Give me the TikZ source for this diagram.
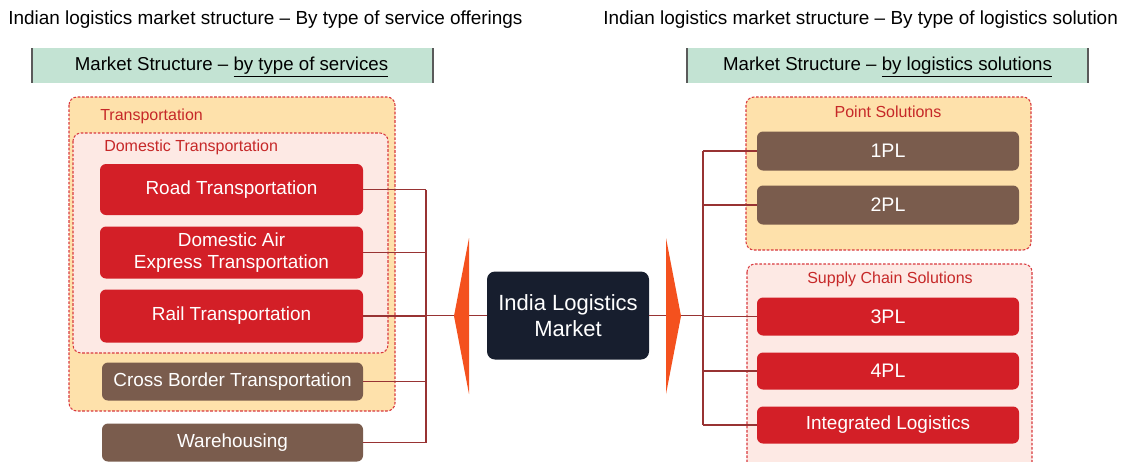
\documentclass[tikz,border=0pt]{standalone}
\usepackage{fontspec}
\setmainfont{Liberation Sans}
\definecolor{hdrgreen}{HTML}{C3E3D3}
\definecolor{lorange}{HTML}{FEE1AB}
\definecolor{lpink}{HTML}{FDE9E4}
\definecolor{dashred}{HTML}{D9393E}
\definecolor{lblred}{HTML}{C62828}
\definecolor{boxred}{HTML}{D31F27}
\definecolor{boxbrown}{HTML}{7A5C4D}
\definecolor{navy}{HTML}{171E2E}
\definecolor{arrowor}{HTML}{F4511E}
\definecolor{connred}{HTML}{983333}
\definecolor{edgegray}{HTML}{5A5A5A}
\begin{document}
\begin{tikzpicture}[x=0.75pt,y=-0.75pt,
  sz/.style 2 args={minimum width=#1*0.75pt, minimum height=#2*0.75pt},
  basebox/.style={text=white, rounded corners=4.5pt, inner sep=0pt, align=center,
    font=\fontsize{14.2}{17}\selectfont},
  redbox/.style={basebox, fill=boxred},
  brownbox/.style={basebox, fill=boxbrown},
  grp/.style={draw=dashred, dash pattern=on 2pt off 1.2pt, line width=0.8pt, rounded corners=6pt},
  grplabel/.style={text=lblred, inner sep=0pt, font=\fontsize{12}{14}\selectfont},
  conn/.style={draw=connred, line width=1.1pt},
  hdr/.style={fill=hdrgreen, draw=none},
  hdrtext/.style={inner sep=0pt, font=\fontsize{14}{17}\selectfont},
  title/.style={inner sep=0pt, anchor=west, font=\fontsize{14.2}{17}\selectfont}]
\useasboundingbox (0,0) rectangle (1123,461);
\clip (0,0) rectangle (1123,461);
\fill[white] (0,0) rectangle (1123,461);

% titles
\node[title] (t1) at (8,20) {Indian logistics market structure – By type of service offerings};
\node[title] (t2) at (603,20) {Indian logistics market structure – By type of logistics solution};

% headers
\fill[hdr] (32,48) rectangle (433,83);
\draw[edgegray, line width=1.1pt] (32,48) -- (32,83) (433,48) -- (433,83);
\node[hdrtext] (h1) at (231.5,67.5) {Market Structure – \underline{by type of services}};
\fill[hdr] (687,48) rectangle (1088,83);
\draw[edgegray, line width=1.1pt] (687,48) -- (687,83) (1088,48) -- (1088,83);
\node[hdrtext] (h2) at (887.5,67.5) {Market Structure – \underline{by logistics solutions}};

% group boxes
\path[grp, fill=lorange] (69,97) rectangle (395,411);
\path[grp, fill=lpink] (73,133) rectangle (388,353);
\node[grplabel, anchor=west] (lt) at (100,116.5) {Transportation};
\node[grplabel, anchor=west] (ldt) at (104,147.5) {Domestic Transportation};
\path[grp, fill=lorange] (746,97) rectangle (1031,250);
\path[grp, fill=lpink] (747,264) rectangle (1032,480);
\node[grplabel] (lps) at (888,111.5) {Point Solutions};
\node[grplabel] (lsc) at (890,279.5) {Supply Chain Solutions};

% left boxes
\node[redbox, sz={263}{51}] (road) at (231.5,189.5) {Road Transportation};
\node[redbox, sz={263}{52}] (air) at (231.5,252.5) {Domestic Air\\Express Transportation};
\node[redbox, sz={263}{53}] (rail) at (231.5,316) {Rail Transportation};
\node[brownbox, sz={261}{38}] (cross) at (232.5,381.5) {Cross Border Transportation};
\node[brownbox, sz={261}{38}] (ware) at (232.5,442.5) {Warehousing};

% center
\node[fill=navy, text=white, rounded corners=6pt, sz={162}{88}, align=center, inner sep=0pt,
  font=\fontsize{16.5}{20}\selectfont] (center) at (568,315.5) {India Logistics\\Market};

% right boxes
\node[brownbox, sz={262}{39}, font=\fontsize{14.7}{17}\selectfont] (p1) at (888,151) {1PL};
\node[brownbox, sz={262}{39}, font=\fontsize{14.7}{17}\selectfont] (p2) at (888,205) {2PL};
\node[redbox, sz={262}{38}, font=\fontsize{14.7}{17}\selectfont] (p3) at (888,316.5) {3PL};
\node[redbox, sz={262}{37}, font=\fontsize{14.7}{17}\selectfont] (p4) at (888,371) {4PL};
\node[redbox, sz={262}{37}] (pint) at (888,425) {Integrated Logistics};

% connectors
\coordinate (lbus) at (426,315.5);
\coordinate (rbus) at (703,315.5);
\draw[conn] (road.east) -- (road.east -| lbus);
\draw[conn] (air.east) -- (air.east -| lbus);
\draw[conn] (rail.east) -- (rail.east -| lbus);
\draw[conn] (cross.east) -- (cross.east -| lbus);
\draw[conn] (ware.east) -- (ware.east -| lbus);
\draw[conn] (road.east -| lbus) -- (ware.east -| lbus);
\draw[conn] (lbus) -- (center.west);
\draw[conn] (center.east) -- (rbus);
\draw[conn] (p1.west -| rbus) -- (pint.west -| rbus);
\draw[conn] (p1.west) -- (p1.west -| rbus);
\draw[conn] (p2.west) -- (p2.west -| rbus);
\draw[conn] (p3.west) -- (p3.west -| rbus);
\draw[conn] (p4.west) -- (p4.west -| rbus);
\draw[conn] (pint.west) -- (pint.west -| rbus);

% arrows
\fill[arrowor] (469,238) -- (454,316) -- (469,394) -- cycle;
\fill[arrowor] (666,238) -- (681,316) -- (666,394) -- cycle;
\end{tikzpicture}
\end{document}
